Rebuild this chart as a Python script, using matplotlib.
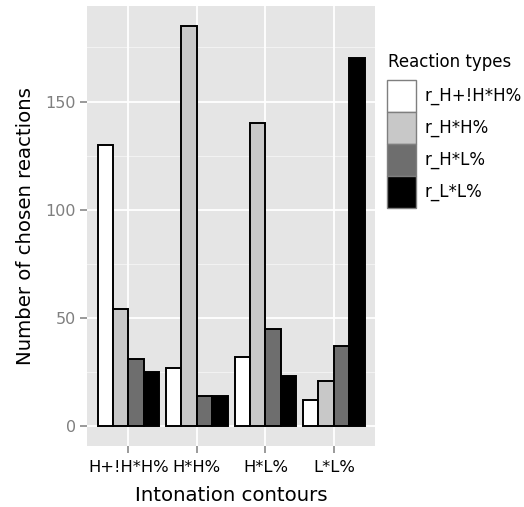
import matplotlib
matplotlib.use("Agg")
import matplotlib.pyplot as plt
from matplotlib.patches import Rectangle
import numpy as np

contours = ["H+!H*H%", "H*H%", "H*L%", "L*L%"]
reaction_types = ["r_H+!H*H%", "r_H*H%", "r_H*L%", "r_L*L%"]
fill_colors = ["#FFFFFF", "#C8C8C8", "#6E6E6E", "#000000"]
counts = {
    "r_H+!H*H%": [130, 27, 32, 12],
    "r_H*H%":    [54, 185, 140, 21],
    "r_H*L%":    [31, 14, 45, 37],
    "r_L*L%":    [25, 14, 23, 170],
}
y_ticks = [0, 50, 100, 150]
y_minor = [25, 75, 125, 175]

plt.rcParams['font.family'] = ['DejaVu Sans']
W, H = 524, 507
fig = plt.figure(figsize=(W / 100, H / 100), dpi=100)
fig.patch.set_facecolor("white")

def fx(px):
    return px / W

def fy(py):
    return 1 - py / H

left, right, top, bottom = 87.3, 375.0, 5.8, 446.0
ax = fig.add_axes([fx(left), fy(bottom), fx(right - left), (bottom - top) / H])
ax.set_facecolor("#E5E5E5")
for s in ax.spines.values():
    s.set_visible(False)

n_groups = len(contours)
n_types = len(reaction_types)
total_w = 0.9
bw = total_w / n_types
x = np.arange(1, n_groups + 1)
for i, rt in enumerate(reaction_types):
    offs = -total_w / 2 + bw * (i + 0.5)
    ax.bar(x + offs, counts[rt], width=bw, color=fill_colors[i],
           edgecolor="black", linewidth=1.4, zorder=3)

ymax = max(max(v) for v in counts.values())
pad = ymax * 0.05
ax.set_ylim(-pad, ymax + pad)
ax.set_xlim(0.4, n_groups + 0.6)

for m in y_minor:
    ax.axhline(m, color="#F2F2F2", linewidth=0.8, zorder=1)
for t in y_ticks:
    ax.axhline(t, color="white", linewidth=1.3, zorder=2)
for xi in x:
    ax.axvline(xi, color="white", linewidth=1.3, zorder=2)

ax.set_xticks(x)
ax.set_xticklabels(contours, fontsize=11.8, color="black")
ax.set_yticks(y_ticks)
ax.set_yticklabels([str(t) for t in y_ticks], fontsize=11.5, color="#7F7F7F")
ax.tick_params(axis="both", which="major", length=5, width=1.1, color="#7F7F7F")
ax.tick_params(axis="x", pad=5)
ax.tick_params(axis="y", pad=3)
ax.set_xlabel("Intonation contours", fontsize=14.2, labelpad=8)
ax.set_ylabel("Number of chosen reactions", fontsize=14.2, labelpad=8)

# Legend
fig.text(fx(388), fy(62), "Reaction types", fontsize=12, va="center", ha="left")
key_x0, key_x1 = 386.7, 415.7
key_top, key_h = 80.0, 32.0
for i, rt in enumerate(reaction_types):
    y0 = key_top + i * key_h
    fig.patches.append(Rectangle((fx(key_x0), fy(y0 + key_h)), fx(key_x1 - key_x0), key_h / H,
                                 transform=fig.transFigure, facecolor=fill_colors[i],
                                 edgecolor="#7F7F7F", linewidth=1.0))
    fig.text(fx(425), fy(y0 + key_h / 2), rt, fontsize=12, va="center", ha="left")

fig.savefig("out.png", dpi=100)
